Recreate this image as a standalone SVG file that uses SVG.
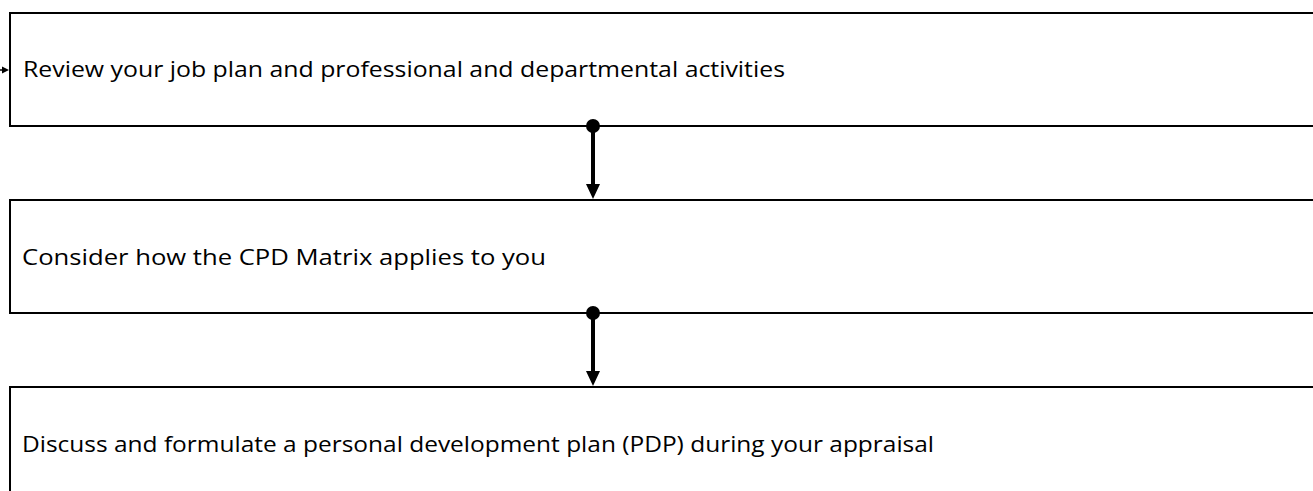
<svg xmlns="http://www.w3.org/2000/svg" width="1313" height="491" viewBox="0 0 1313 491">
  <style>
    .box { fill: #ffffff; stroke: #000000; stroke-width: 2; }
    .label { font-family: "Open Sans", "Noto Sans", "Liberation Sans", sans-serif; font-size: 21px; fill: #000000; }
    .link { stroke: #000000; stroke-width: 4; fill: none; }
  </style>
  <rect width="1313" height="491" fill="#ffffff"/>

  <g id="step-review">
    <rect class="box" x="10" y="13" width="1320" height="113"/>
    <text class="label" x="23" y="77" textLength="762" lengthAdjust="spacingAndGlyphs">Review your job plan and professional and departmental activities</text>
  </g>

  <g id="step-consider">
    <rect class="box" x="10" y="200" width="1320" height="113"/>
    <text class="label" x="22" y="265" textLength="524" lengthAdjust="spacingAndGlyphs">Consider how the CPD Matrix applies to you</text>
  </g>

  <g id="step-discuss">
    <rect class="box" x="10" y="387" width="1320" height="120"/>
    <text class="label" x="22" y="452" textLength="912" lengthAdjust="spacingAndGlyphs">Discuss and formulate a personal development plan (PDP) during your appraisal</text>
  </g>

  <g id="connectors">
    <!-- entry arrow into the first step -->
    <line x1="0" y1="70" x2="4" y2="70" stroke="#000" stroke-width="1.5"/>
    <path d="M2,66.5 L9,70 L2,73.5 Z" fill="#000"/>
    <!-- step 1 to step 2 -->
    <circle cx="593" cy="126" r="7" fill="#000"/>
    <line class="link" x1="593" y1="126" x2="593" y2="186"/>
    <path d="M586,184 L600,184 L593,199 Z" fill="#000"/>
    <!-- step 2 to step 3 -->
    <circle cx="593" cy="313" r="7" fill="#000"/>
    <line class="link" x1="593" y1="313" x2="593" y2="373"/>
    <path d="M586,371 L600,371 L593,386 Z" fill="#000"/>
  </g>
</svg>
